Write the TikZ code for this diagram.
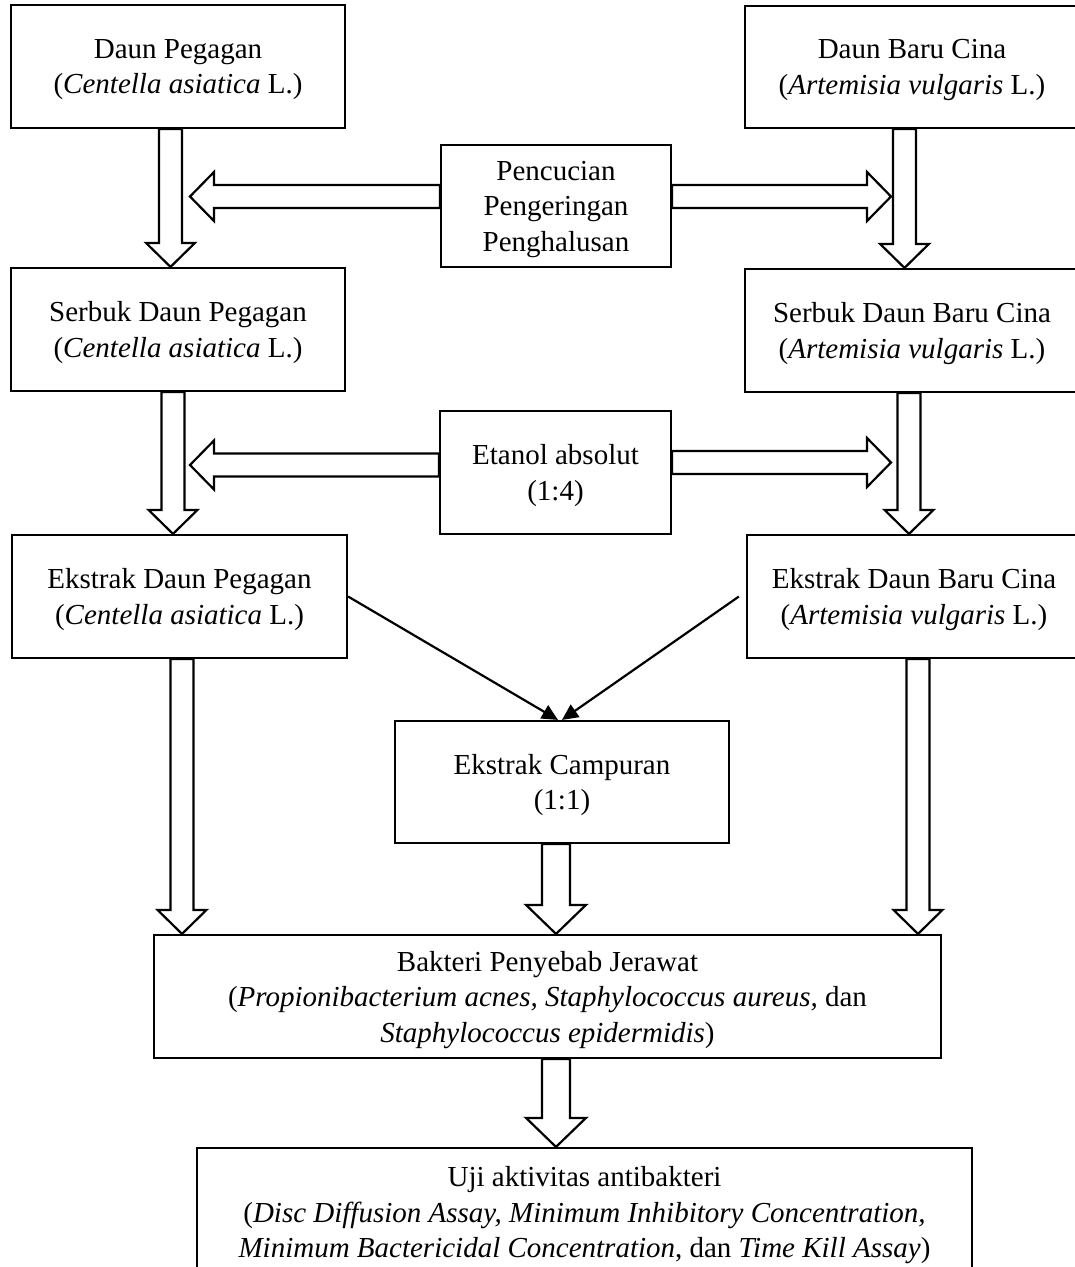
\documentclass[tikz,border=0pt]{standalone}
\usepackage{fontspec}
\setmainfont{Liberation Serif}
\usepackage{tikz}
\usetikzlibrary{calc,arrows.meta}

\newcommand{\shaftw}{11.5pt}
\newcommand{\headw}{24.5pt}
\newcommand{\headl}{24pt}

\begin{document}
\begin{tikzpicture}[x=1pt,y=-1pt,
    box/.style={draw,line width=2.2pt,align=center,inner sep=0pt,
      font=\fontsize{29}{35.5}\selectfont,text depth=-7.5pt},
    blockarrow/.style={fill=white,line width=2.2pt,line join=miter,
      to path={-- ($(\tikztostart)!\shaftw!90:(\tikztotarget)$)
        -- ($(\tikztotarget)!\headl!(\tikztostart)!\shaftw!-90:(\tikztostart)$)
        -- ($(\tikztotarget)!\headl!(\tikztostart)!\headw!-90:(\tikztostart)$)
        -- (\tikztotarget)
        -- ($(\tikztotarget)!\headl!(\tikztostart)!\headw!90:(\tikztostart)$)
        -- ($(\tikztotarget)!\headl!(\tikztostart)!\shaftw!90:(\tikztostart)$)
        -- ($(\tikztostart)!\shaftw!-90:(\tikztotarget)$)
        -- cycle}},
    widearrow/.code={\def\shaftw{14pt}\def\headw{30pt}\def\headl{29pt}},
    thinarrow/.style={line width=2.2pt,-{Triangle[length=16pt,width=15pt]}}]
    \useasboundingbox (0,0) rectangle (1075,1267);

    \node[box,minimum width=334pt,minimum height=123pt] (dp) at (178,66.5)
        {Daun Pegagan\\(\textit{Centella asiatica} L.)};
    \node[box,minimum width=334pt,minimum height=122pt] (dbc) at (912,67)
        {Daun Baru Cina\\(\textit{Artemisia vulgaris} L.)};
    \node[box,minimum width=230pt,minimum height=122pt] (pc) at (556,206)
        {Pencucian\\Pengeringan\\Penghalusan};
    \node[box,minimum width=334pt,minimum height=123pt] (sdp) at (178,329.5)
        {Serbuk Daun Pegagan\\(\textit{Centella asiatica} L.)};
    \node[box,minimum width=334pt,minimum height=123pt] (sdbc) at (912,330.5)
        {Serbuk Daun Baru Cina\\(\textit{Artemisia vulgaris} L.)};
    \node[box,minimum width=231pt,minimum height=123pt] (et) at (555.5,472.5)
        {Etanol absolut\\(1:4)};
    \node[box,minimum width=335pt,minimum height=123pt] (edp) at (179.5,596.5)
        {Ekstrak Daun Pegagan\\(\textit{Centella asiatica} L.)};
    \node[box,minimum width=334pt,minimum height=123pt] (edbc) at (914,596.5)
        {Ekstrak Daun Baru Cina\\(\textit{Artemisia vulgaris} L.)};
    \node[box,minimum width=334pt,minimum height=122pt] (ec) at (562,782)
        {Ekstrak Campuran\\(1:1)};
    \node[box,minimum width=787pt,minimum height=123pt] (bk) at (547.5,996.5)
        {Bakteri Penyebab Jerawat\\(\textit{Propionibacterium acnes, Staphylococcus aureus,} dan\\\textit{Staphylococcus epidermidis})};
    \node[box,minimum width=775pt,minimum height=128pt] (uji) at (584.5,1212)
        {Uji aktivitas antibakteri\\(\textit{Disc Diffusion Assay, Minimum Inhibitory Concentration,}\\\textit{Minimum Bactericidal Concentration}, dan \textit{Time Kill Assay})};

    \draw[blockarrow] ([xshift=-7.5pt]dp.south) to ([xshift=-7.5pt]sdp.north);
    \draw[blockarrow] ([xshift=-7.5pt]dbc.south) to ([xshift=-7.5pt]sdbc.north);
    \draw[blockarrow] ([yshift=9.5pt]pc.west) to ([xshift=12pt,yshift=9.5pt]dp.south |- pc.west);
    \draw[blockarrow] ([yshift=9.5pt]pc.east) to ([xshift=-21pt,yshift=9.5pt]dbc.south |- pc.east);

    \draw[blockarrow] ([xshift=-5pt]sdp.south) to ([xshift=-6.5pt]edp.north);
    \draw[blockarrow] ([xshift=-3pt]sdbc.south) to ([xshift=-5pt]edbc.north);
    \draw[blockarrow] ([yshift=7.5pt]et.west) to ([xshift=12pt,yshift=7.5pt]sdp.south |- et.west);
    \draw[blockarrow] ([yshift=10pt]et.east) to ([xshift=-21pt,yshift=10pt]sdbc.south |- et.east);

    \draw[thinarrow] (edp.east) -- ([xshift=-4pt]ec.north);
    \draw[thinarrow] ([xshift=-7pt]edbc.west) -- (ec.north);

    \draw[blockarrow] ([xshift=2.5pt]edp.south) to ([xshift=2.5pt]edp.south |- bk.north);
    \draw[blockarrow,widearrow] ([xshift=-6pt]ec.south) to ([xshift=-6pt]ec.south |- bk.north);
    \draw[blockarrow] ([xshift=4pt]edbc.south) to ([xshift=4pt]edbc.south |- bk.north);
    \draw[blockarrow,widearrow] ([xshift=8.5pt]bk.south) to ([xshift=8.5pt]bk.south |- uji.north);
\end{tikzpicture}
\end{document}
